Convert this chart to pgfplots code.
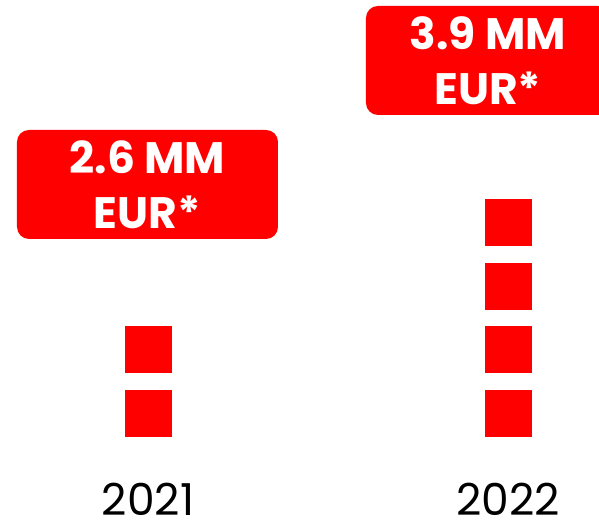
\documentclass[border=0pt]{standalone}
\usepackage{pgfplots}
\pgfplotsset{compat=1.18}
\usepackage{fontspec}
\setmainfont{Poppins}
\definecolor{brandred}{HTML}{FF0000}
\begin{document}
\begin{tikzpicture}
\begin{axis}[
  at={(0,0)}, anchor=south west,
  scale only axis, width=599pt, height=520pt,
  xmin=-0.41111, xmax=1.25278,
  ymin=-0.6727, ymax=7.494,
  axis line style={draw=none},
  major tick length=0pt,
  ytick=\empty,
  xtick={0,1}, xticklabels={2021,2022},
  xticklabel style={anchor=base, inner sep=0pt, yshift=5pt, font=\fontsize{44}{44}\selectfont, text=black},
  clip=false,
]
\addplot[brandred, only marks, mark=square*, mark size=23pt, mark options={fill=brandred, draw=brandred, line width=0pt}]
  coordinates {(0,1)(0,2)(1,1)(1,2)(1,3)(1,4)};
\node[fill=brandred, text=white, rounded corners=12pt, minimum width=261pt, minimum height=109pt,
  align=center, font=\bfseries\fontsize{44}{55}\selectfont] at (axis cs:-0.0014,4.597) {2.6 MM\\EUR*};
\node[fill=brandred, text=white, rounded corners=12pt, minimum width=244pt, minimum height=109pt,
  align=center, font=\bfseries\fontsize{44}{55}\selectfont] at (axis cs:0.9444,6.544) {3.9 MM\\EUR*};
\end{axis}
\pgfresetboundingbox
\path[use as bounding box] (0,0) rectangle (599pt,520pt);
\end{tikzpicture}
\end{document}
